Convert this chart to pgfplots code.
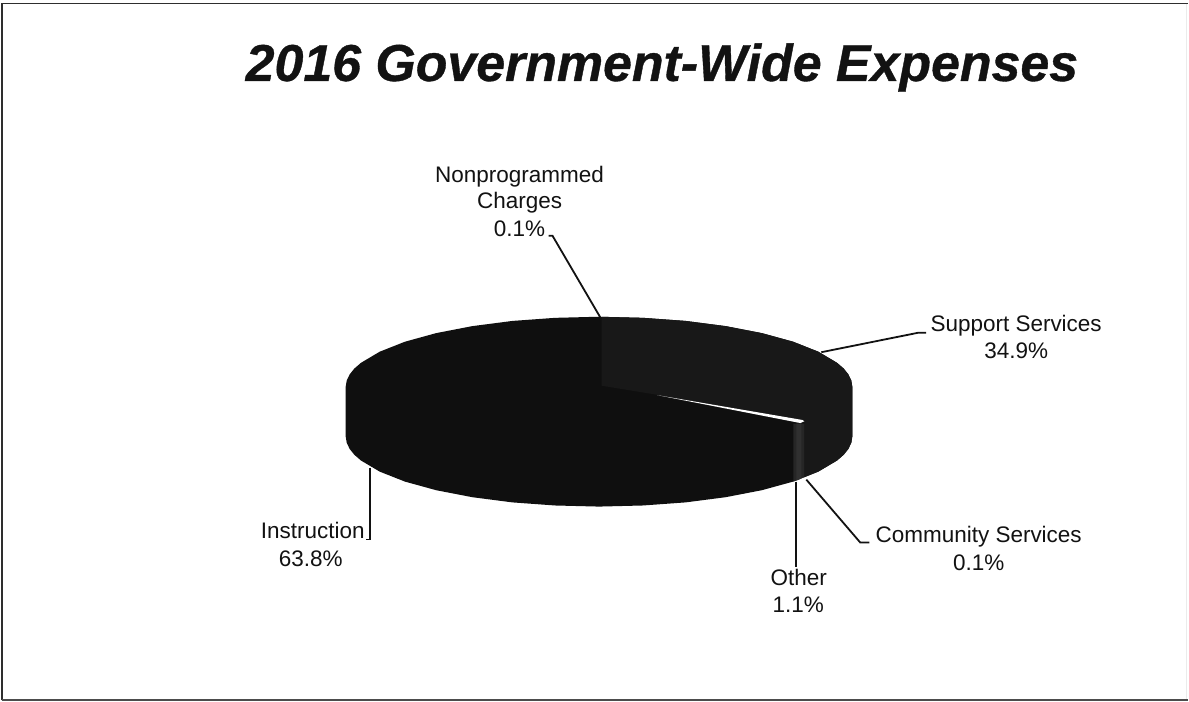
\documentclass[border=0pt]{standalone}
\usepackage{pgfplots}
\pgfplotsset{compat=1.18}
\usepackage{fontspec}
\setmainfont{Liberation Sans}
\newfontfamily\headingfont[BoldItalicFeatures={FakeBold=0.7}]{Liberation Sans}
\definecolor{inkdark}{gray}{0.07}
\definecolor{supportshade}{gray}{0.095}
\definecolor{instructionshade}{gray}{0.06}
\definecolor{othershade}{gray}{0.15}
\definecolor{othercore}{gray}{0.19}
\begin{document}
\begin{tikzpicture}
\begin{axis}[
  at={(0pt,0pt)}, anchor=south west,
  width=1189pt, height=702pt, scale only axis,
  hide axis, clip=false,
  xmin=0, xmax=1189, ymin=0, ymax=702, y dir=reverse,
  every axis plot/.append style={no markers},
]
% page background and outer frame
\addplot[fill=white, draw=none] coordinates {(0,0)(1189,0)(1189,702)(0,702)} -- cycle;
\addplot[color=black!82, line width=2pt] coordinates {(2.5,701)(2.5,3.5)(1189,3.5)};
\addplot[color=black!70, line width=2pt] coordinates {(2.5,701)(1189,701)};
\addplot[color=black!8, line width=1pt] coordinates {(1187.5,4)(1187.5,700)};

% whole disc: Instruction, 63.8%
\addplot[fill=instructionshade, draw=none] coordinates {
  (346,387)(347,380.9)(349.9,374.8)(354.6,368.9)(361.3,363.1)(380,352)(405.3,342)(436.5,333.4)
  (472.7,326.4)(512.8,321.2)(555.5,318.1)(599.5,317)(643.5,318.1)(686.2,321.2)(726.3,326.4)
  (762.5,333.4)(793.8,342)(819,352)(837.7,363.1)(844.4,368.9)(849.1,374.8)(852,380.9)(853,387)
  (853,437)(852,443.1)(849.1,449.2)(844.4,455.1)(837.7,460.9)(819,472)(793.8,482)(762.5,490.6)
  (726.3,497.6)(686.2,502.8)(643.5,505.9)(599.5,507)(555.5,505.9)(512.8,502.8)(472.7,497.6)
  (436.5,490.6)(405.3,482)(380,472)(361.3,460.9)(354.6,455.1)(349.9,449.2)(347,443.1)(346,437)
} -- cycle;

% Support Services, 34.9%
\addplot[fill=supportshade, draw=none] coordinates {
  (602,317.1)(643.5,318.1)(686.2,321.2)(726.3,326.4)(762.5,333.4)(793.8,342)(819,352)
  (837.7,363.1)(844.4,368.9)(849.1,374.8)(852,380.9)(853,387)
  (853,437)(852,443.1)(849.1,449.2)(844.4,455.1)(837.7,460.9)(819,472)(805,477.6)
  (805,423)(657,395)(602,386)
} -- cycle;

% Other, 1.1%, on the rim of the disc
\addplot[fill=othershade, draw=none] coordinates {(794,424)(805,424)(805,477.6)(794,482)} -- cycle;
\addplot[fill=othercore, draw=none] coordinates {(797,424)(802,424)(802,479)(797,481)} -- cycle;

% gap between slices
\addplot[fill=white, draw=none] coordinates {(658,395.5)(803,420.3)(805,421.6)(801,423.4)} -- cycle;

% leader lines
\addplot[color=inkdark, line width=1.8pt] coordinates {(601,318)(553,236)(549,236)};
\addplot[color=inkdark, line width=1.8pt] coordinates {(822,352.5)(919,333)(927,333)};
\addplot[color=inkdark, line width=1.8pt] coordinates {(370,468)(370,540)(366,540)};
\addplot[color=inkdark, line width=1.8pt] coordinates {(797,482)(797,567)};
\addplot[color=inkdark, line width=1.8pt] coordinates {(807,480)(861,543)(870,543)};

% title and slice labels
\node[anchor=base, text=inkdark, font=\fontsize{51.9}{56}\selectfont\headingfont\bfseries\itshape]
  at (axis cs:662.5,81) {2016 Government-Wide Expenses};
\begin{scope}[every node/.style={text=inkdark, anchor=base, font=\fontsize{22.5}{26.5}\selectfont}]
\node at (axis cs:520,183) {Nonprogrammed};
\node at (axis cs:520,209) {Charges};
\node at (axis cs:520,237) {0.1\%};
\node at (axis cs:1017,332) {Support Services};
\node at (axis cs:1017,359) {34.9\%};
\node at (axis cs:313,539) {Instruction};
\node at (axis cs:311,567) {63.8\%};
\node at (axis cs:799.5,586) {Other};
\node at (axis cs:799,613.5) {1.1\%};
\node at (axis cs:979.5,543) {Community Services};
\node at (axis cs:979.5,571) {0.1\%};
\end{scope}
\end{axis}
\end{tikzpicture}
\end{document}
